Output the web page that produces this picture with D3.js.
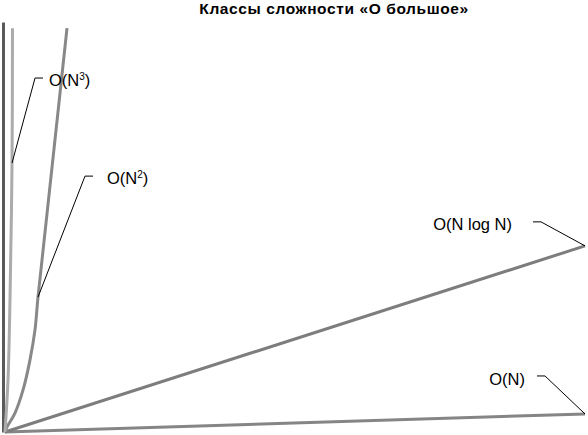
<!DOCTYPE html>
<html><head><meta charset="utf-8">
<script src="https://cdn.jsdelivr.net/npm/d3@7"></script>
<style>body{margin:0;background:#fff}svg{display:block}</style>
</head><body>
<svg id="c" width="588" height="435"></svg>
<script>
const title = "Классы сложности «O большое»";
const seriesNames = ["O(N)", "O(N log N)", "O(N²)", "O(N³)"];
const sN = [[0,0],[100,4.4]];
const sNlogN = [[0,0],[100,45.4]];
const sN2 = [[0,0],[0.34,1.22],[1.72,4.63],[3.10,10.2],[4.31,17.6],[5.17,24.9],[5.69,32.9],[7.5,56.6],[10.69,98.5]];
const sN3 = [[0,0],[0.52,12.7],[0.86,32.2],[1.21,65.6],[1.29,98.5]];
// label anchor points (on the curve) in data units
const labelAnchors = [[100,4.4],[100,45.4],[5.69,32.9],[1.21,65.6]];

const svg = d3.select("#c");
const x = d3.scaleLinear().domain([0,100]).range([5,585]);
const y = d3.scaleLinear().domain([0,100]).range([432,22]);

svg.append("text").attr("x",334).attr("y",14).attr("text-anchor","middle")
  .attr("font-family","Liberation Sans, Arial, sans-serif").attr("font-weight","bold")
  .attr("font-size",15.5).attr("letter-spacing",0.6).attr("fill","#000").text(title);

// vertical axis
const ax = svg.append("g").attr("transform",`translate(${x(0)-2},0)`)
  .call(d3.axisLeft(y).tickValues([]).tickSizeOuter(0));
ax.select(".domain").attr("stroke","#5a5a5a").attr("stroke-width",3);

const line = d3.line().x(d=>x(d[0])).y(d=>y(d[1])).curve(d3.curveCatmullRom);
const styles = [
  {data:sN, color:"#858585"},
  {data:sNlogN, color:"#7d7d7d"},
  {data:sN2, color:"#888888"},
  {data:sN3, color:"#ababab"}
];
styles.forEach(s=>{
  svg.append("path").datum(s.data).attr("d",line).attr("fill","none")
    .attr("stroke",s.color).attr("stroke-width",3).attr("stroke-linecap","butt");
});

const leaderCfg = [
  {bend:[-40,-38], tail:-8, anchor:"end", dx:-12, dy:9},
  {bend:[-44,-24], tail:-8, anchor:"end", dx:-21, dy:8},
  {bend:[47,-121], tail:8, anchor:"start", dx:14, dy:8},
  {bend:[23,-85], tail:8, anchor:"start", dx:6, dy:8}
];
seriesNames.forEach((name,i)=>{
  const a = labelAnchors[i];
  const px = x(a[0]), py = y(a[1]);
  const c = leaderCfg[i];
  const bx = px + c.bend[0], by = py + c.bend[1];
  const tx = bx + c.tail;
  svg.append("polyline").attr("points",`${px},${py} ${bx},${by} ${tx},${by}`)
    .attr("fill","none").attr("stroke","#000").attr("stroke-width",1);
  const t = svg.append("text").attr("x", tx + c.dx).attr("y", by + c.dy)
    .attr("text-anchor", c.anchor).attr("font-family","Liberation Sans, Arial, sans-serif")
    .attr("font-size",16.5).attr("fill","#000");
  const m = name.match(/^(.*?)([²³])(.*)$/);
  if (m) {
    t.append("tspan").text(m[1]);
    t.append("tspan").attr("font-size",10).attr("dy",-6).text(m[2]==="²"?"2":"3");
    t.append("tspan").attr("dy",6).text(m[3]);
  } else t.text(name);
});
</script>
</body></html>
